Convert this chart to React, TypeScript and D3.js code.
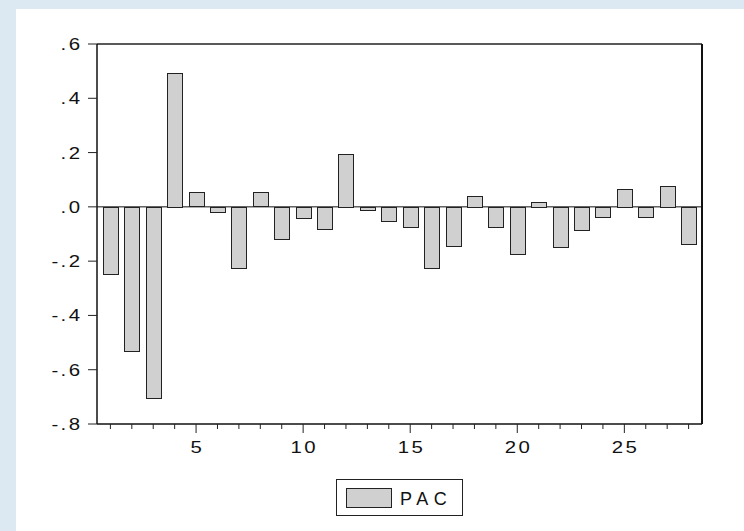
import React from "react";
import * as d3 from "d3";

const lags: number[] = Array.from({ length: 28 }, (_, i) => i + 1);
const pacValues: number[] = [
  -0.248, -0.531, -0.705, 0.494, 0.053, -0.019, -0.226, 0.053, -0.119, -0.041,
  -0.08, 0.195, -0.012, -0.052, -0.075, -0.224, -0.143, 0.041, -0.075, -0.172,
  0.018, -0.148, -0.083, -0.035, 0.066, -0.035, 0.077, -0.136,
];
const yTicks: number[] = [0.6, 0.4, 0.2, 0.0, -0.2, -0.4, -0.6, -0.8];
const xMajor: number[] = [5, 10, 15, 20, 25];
const seriesName = "PAC";

const W = 744;
const H = 531;
const left = 97;
const right = 702;
const top = 44;
const bottom = 424;

const fmt = (v: number) => {
  const s = v.toFixed(1);
  return s.replace(/^(-?)0\./, "$1.");
};

const font = "'Liberation Sans', Arial, sans-serif";
const SX = 1.2;
const LS = 2;

function Label(props: { x: number; y: number; anchor: "end" | "middle" | "start"; text: string }) {
  const shift = props.anchor === "end" ? LS * SX : props.anchor === "middle" ? (LS * SX) / 2 : 0;
  return (
    <text
      transform={`translate(${props.x + shift},${props.y}) scale(${SX},1)`}
      x={0}
      y={0}
      textAnchor={props.anchor}
      fontFamily={font}
      fontSize={17}
      letterSpacing={LS}
      fill="#111"
    >
      {props.text}
    </text>
  );
}

export default function App() {
  const x = d3.scaleLinear().domain([0.374, 28.626]).range([left, right]);
  const y = d3.scaleLinear().domain([-0.8, 0.6]).range([bottom, top]);
  const step = x(2) - x(1);
  const bw = step * 0.7;
  return (
    <svg
      width={W}
      height={H}
      style={{ position: "absolute", left: 0, top: 0, display: "block" }}
    >
      <rect x={0} y={0} width={W} height={H} fill="#dce8f2" />
      <rect x={16} y={9} width={W - 16} height={H - 9} fill="#ffffff" />
      {/* zero line */}
      <line x1={left} x2={right} y1={y(0)} y2={y(0)} stroke="#111" strokeWidth={1} />
      {/* bars */}
      {pacValues.map((v, i) => {
        const cx = x(lags[i]);
        const y0 = y(0);
        const y1 = y(v);
        return (
          <rect
            key={i}
            x={Math.round(cx - bw / 2) + 0.5}
            y={Math.round(Math.min(y0, y1)) + 0.5}
            width={Math.round(bw)}
            height={Math.max(1, Math.round(Math.abs(y1 - y0)))}
            fill="#d0d0d0"
            stroke="#222"
            strokeWidth={1}
          />
        );
      })}
      {/* frame */}
      <line x1={left} x2={right} y1={top} y2={top} stroke="#222" strokeWidth={1.5} />
      <line x1={left} x2={left} y1={top} y2={bottom} stroke="#111" strokeWidth={1.5} />
      <line x1={right} x2={right} y1={top} y2={bottom} stroke="#111" strokeWidth={2} />
      <line x1={left} x2={right} y1={bottom} y2={bottom} stroke="#111" strokeWidth={1.5} />
      {/* y ticks */}
      {yTicks.map((t) => (
        <g key={t}>
          <line x1={left - 9} x2={left} y1={y(t)} y2={y(t)} stroke="#222" strokeWidth={1} />
          <Label x={80} y={y(t) + 6} anchor="end" text={fmt(t)} />
        </g>
      ))}
      {/* x ticks */}
      {lags.map((l) => {
        const major = xMajor.includes(l);
        return (
          <line
            key={l}
            x1={x(l)}
            x2={x(l)}
            y1={bottom}
            y2={bottom + (major ? 9 : 5)}
            stroke="#222"
            strokeWidth={1}
          />
        );
      })}
      {xMajor.map((t) => (
        <Label key={t} x={x(t)} y={453} anchor="middle" text={String(t)} />
      ))}
      {/* legend */}
      <rect x={336.5} y={479.5} width={126} height={36} fill="#fff" stroke="#222" strokeWidth={1} />
      <rect x={346.5} y={488.5} width={45} height={19} fill="#d0d0d0" stroke="#222" strokeWidth={1} />
      <text
        x={400}
        y={505}
        fontFamily={font}
        fontSize={18}
        letterSpacing={5.5}
        fill="#111"
      >
        {seriesName}
      </text>
    </svg>
  );
}
